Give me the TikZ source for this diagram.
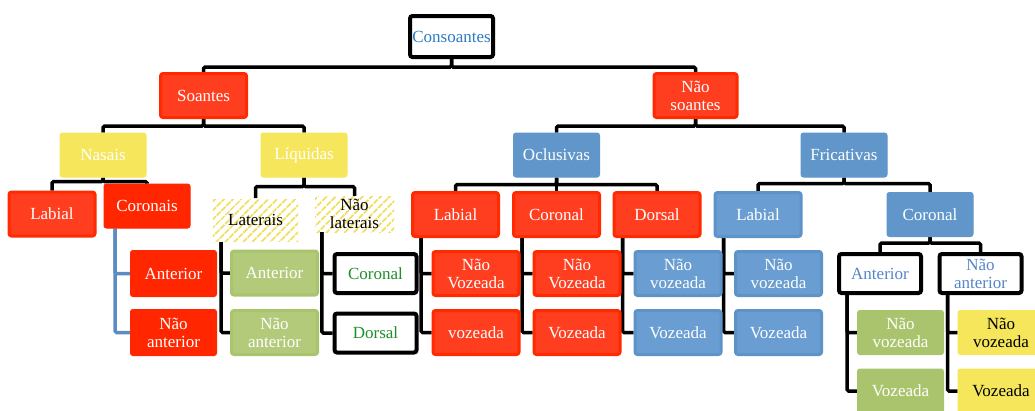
\documentclass[tikz,border=0pt]{standalone}
\usepackage{fontspec}
\setmainfont{Liberation Serif}
\usetikzlibrary{backgrounds,patterns.meta}
\definecolor{redfill}{HTML}{FF3D1F}
\definecolor{redline}{HTML}{FF2A00}
\definecolor{redsolid}{HTML}{FF2600}
\definecolor{yel}{HTML}{F5E65B}
\definecolor{hatchy}{HTML}{F2E066}
\definecolor{bluesolid}{HTML}{6196CA}
\definecolor{bluefill}{HTML}{6A9ED2}
\definecolor{blueline}{HTML}{5E93C7}
\definecolor{greenfill}{HTML}{B3CA7B}
\definecolor{greenline}{HTML}{A8C46C}
\definecolor{greensolid}{HTML}{A9C46C}
\definecolor{constext}{HTML}{2E7BC4}
\definecolor{gtext}{HTML}{1F8F2A}
\definecolor{btext}{HTML}{5585C8}
\definecolor{bluelink}{HTML}{5B8CC2}
\begin{document}
\begin{tikzpicture}[x=1pt,y=-1pt,
  font=\fontsize{17}{18}\selectfont,
  bx/.style={rounded corners=2.5pt, align=center, inner sep=0pt,
    minimum width=86pt, minimum height=44pt, text=white},
  redA/.style={bx, fill=redfill, draw=redline, line width=3pt},
  redB/.style={bx, fill=redsolid, draw=redsolid, line width=1pt},
  yelbox/.style={bx, fill=yel, draw=yel, line width=1pt},
  blueA/.style={bx, fill=bluefill, draw=blueline, line width=3pt},
  blueB/.style={bx, fill=bluesolid, draw=bluesolid, line width=1pt},
  greenA/.style={bx, fill=greenfill, draw=greenline, line width=3pt},
  greenB/.style={bx, fill=greensolid, draw=greensolid, line width=1pt},
  wbox/.style={bx, fill=white, draw=black, line width=4pt,
    minimum width=82pt, minimum height=39pt},
  hatch/.style={align=center, inner sep=0pt, text=black,
    pattern={Lines[angle=45,distance=6.5pt,line width=2pt]}, pattern color=hatchy},
  conn/.style={line width=3.5pt, draw=black, rounded corners=1.5pt}
]
\clip (0,0) rectangle (1035,410);

% level 0
\node[wbox, text=constext, minimum width=83pt, minimum height=41pt] (cons) at (451.5,36.5) {Consoantes};
% level 1
\node[redA] (soan) at (203.5,95.5) {Soantes};
\node[redA, minimum width=83pt] (naos) at (695.5,95.5) {Não\\soantes};
% level 2
\node[yelbox] (nas) at (103,155) {Nasais};
\node[yelbox] (liq) at (304,155) {Líquidas};
\node[blueB] (ocl) at (556.5,155) {Oclusivas};
\node[blueB] (fri) at (844,155) {Fricativas};
% level 3
\node[redA] (nlab) at (52,214) {Labial};
\node[redB] (ncor) at (147,206) {Coronais};
\node[hatch, minimum width=85pt, minimum height=42pt] (lat) at (255.5,220) {Laterais};
\node[hatch, minimum width=79pt, minimum height=36pt] (nlat) at (354.5,214) {Não\\laterais};
\node[redA] (olab) at (455.5,214.5) {Labial};
\node[redA] (ocor) at (556.5,214.5) {Coronal};
\node[redA] (odor) at (657,214.5) {Dorsal};
\node[blueA] (flab) at (758,214.5) {Labial};
\node[blueB] (fcor) at (930,214.5) {Coronal};
% level 4
\node[redB, minimum height=46pt] (ncant) at (173.5,273.5) {Anterior};
\node[redB, minimum height=46pt] (ncnant) at (173.5,332.5) {Não\\anterior};
\node[greenA] (lant) at (274.5,273) {Anterior};
\node[greenA] (lnant) at (274.5,332.5) {Não\\anterior};
\node[wbox, text=gtext] (ncoro) at (375.5,273.5) {Coronal};
\node[wbox, text=gtext] (ndors) at (375.5,333) {Dorsal};
\node[redA] (olnv) at (476,273.5) {Não\\Vozeada};
\node[redA] (olv) at (476,332.5) {vozeada};
\node[redA] (ocnv) at (577,273.5) {Não\\Vozeada};
\node[redA] (ocv) at (577,332.5) {Vozeada};
\node[blueA] (odnv) at (678,273.5) {Não\\vozeada};
\node[blueA] (odv) at (678,332.5) {Vozeada};
\node[blueA] (flnv) at (778.5,273.5) {Não\\vozeada};
\node[blueA] (flv) at (778.5,332.5) {Vozeada};
\node[wbox, text=btext] (fant) at (880,273.5) {Anterior};
\node[wbox, text=btext] (fnant) at (980.5,273.5) {Não\\anterior};
% level 5
\node[greenB] (fanv) at (900.5,332.5) {Não\\vozeada};
\node[greenB] (fav) at (900.5,391) {Vozeada};
\node[yelbox, text=black] (fnnv) at (1001,332.5) {Não\\vozeada};
\node[yelbox, text=black] (fnv) at (1001,391) {Vozeada};

\begin{scope}[on background layer]
\draw[conn] (cons.south) -- ++(0,8) -| (soan.north);
\draw[conn] (cons.south) -- ++(0,8) -| (naos.north);
\draw[conn] (soan.south) -- ++(0,7) -| (nas.north);
\draw[conn] (soan.south) -- ++(0,7) -| (liq.north);
\draw[conn] (naos.south) -- ++(0,7) -| (ocl.north);
\draw[conn] (naos.south) -- ++(0,7) -| (fri.north);
\draw[conn] (nas.south) -- ++(0,4) -| (nlab.north);
\draw[conn] (nas.south) -- ++(0,4) -| (ncor.north);
\draw[conn] (liq.south) -- ++(0,9) -| (lat.north);
\draw[conn] (liq.south) -- ++(0,9) -| (nlat.north);
\draw[conn] (ocl.south) -- ++(0,7) -| (olab.north);
\draw[conn] (ocl.south) -- ++(0,7) -| (ocor.north);
\draw[conn] (ocl.south) -- ++(0,7) -| (odor.north);
\draw[conn] (fri.south) -- ++(0,6) -| (flab.north);
\draw[conn] (fri.south) -- ++(0,6) -| (fcor.north);
\draw[conn] (fcor.south) -- ++(0,6) -| (fant.north);
\draw[conn] (fcor.south) -- ++(0,6) -| (fnant.north);
% side connectors
\draw[conn, draw=bluelink] ([xshift=-32pt]ncor.south) |- (ncant.west);
\draw[conn, draw=bluelink] ([xshift=-32pt]ncor.south) |- (ncnant.west);
\draw[conn] ([xshift=9pt]lat.south west) |- (lant.west);
\draw[conn] ([xshift=9pt]lat.south west) |- (lnant.west);
\draw[conn] ([xshift=7pt]nlat.south west) -- ++(0,6) |- (ncoro.west);
\draw[conn] ([xshift=7pt]nlat.south west) -- ++(0,6) |- (ndors.west);
\draw[conn] ([xshift=10pt]olab.south west) |- (olnv.west);
\draw[conn] ([xshift=10pt]olab.south west) |- (olv.west);
\draw[conn] ([xshift=10pt]ocor.south west) |- (ocnv.west);
\draw[conn] ([xshift=10pt]ocor.south west) |- (ocv.west);
\draw[conn] ([xshift=10pt]odor.south west) |- (odnv.west);
\draw[conn] ([xshift=10pt]odor.south west) |- (odv.west);
\draw[conn] ([xshift=10pt]flab.south west) |- (flnv.west);
\draw[conn] ([xshift=10pt]flab.south west) |- (flv.west);
\draw[conn] ([xshift=10pt]fant.south west) |- (fanv.west);
\draw[conn] ([xshift=10pt]fant.south west) |- (fav.west);
\draw[conn] ([xshift=10pt]fnant.south west) |- (fnnv.west);
\draw[conn] ([xshift=10pt]fnant.south west) |- (fnv.west);
\end{scope}
\end{tikzpicture}
\end{document}
